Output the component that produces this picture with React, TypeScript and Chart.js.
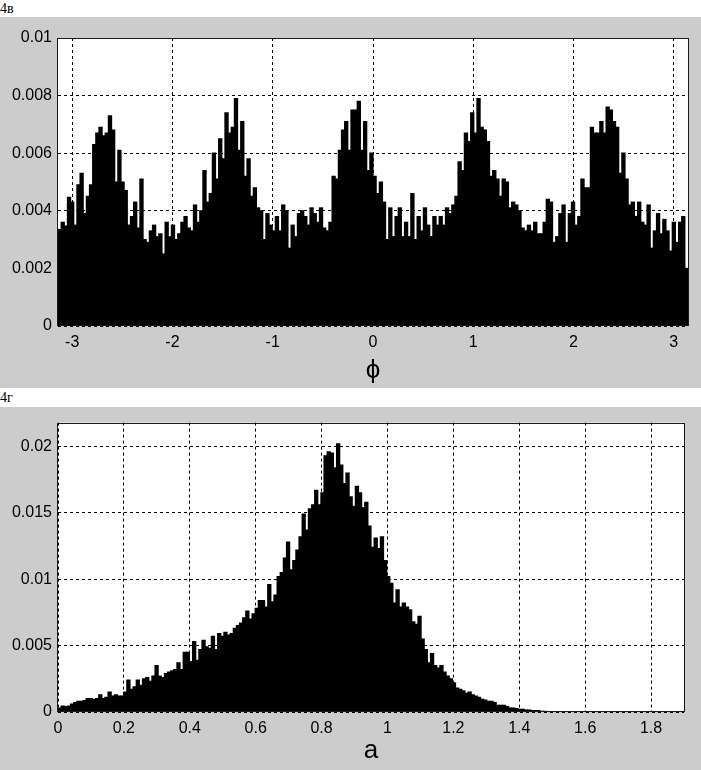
import React, { useEffect, useRef } from 'react';
import { Chart, registerables } from 'chart.js';

Chart.register(...registerables);

// ---- Panel 4в : distribution of phase ϕ (200 bins on [-π, π]) ----
const phiRange = [-Math.PI, Math.PI];
const phiDensity = [
  0.00335, 0.0036, 0.00347, 0.00447, 0.0043, 0.0035, 0.0049, 0.0053, 0.0039, 0.0045,
  0.0049, 0.0063, 0.0067, 0.0069, 0.0066, 0.0067, 0.0073, 0.0068, 0.005, 0.0061,
  0.005, 0.0047, 0.0035, 0.0038, 0.0043, 0.0034, 0.0051, 0.003, 0.0029, 0.0033,
  0.0035, 0.0031, 0.0032, 0.0025, 0.0036, 0.0031, 0.0035, 0.003, 0.0032, 0.0036,
  0.0038, 0.0034, 0.0033, 0.0042, 0.0036, 0.004, 0.0054, 0.0043, 0.0046, 0.006,
  0.0051, 0.0065, 0.0058, 0.0074, 0.0067, 0.0069, 0.0079, 0.0061, 0.0071, 0.0052,
  0.0058, 0.0045, 0.0048, 0.0041, 0.004, 0.003, 0.0039, 0.0035, 0.0033, 0.0038,
  0.0033, 0.0042, 0.004, 0.0027, 0.0035, 0.0031, 0.0039, 0.004, 0.0038, 0.0035,
  0.0041, 0.0039, 0.0036, 0.0041, 0.0034, 0.0033, 0.0036, 0.0052, 0.0051, 0.0061,
  0.0068, 0.0071, 0.0061, 0.0075, 0.0075, 0.0078, 0.0061, 0.0071, 0.0054, 0.006,
  0.0052, 0.0046, 0.005, 0.0043, 0.003, 0.0041, 0.0031, 0.0038, 0.0041, 0.0031,
  0.0036, 0.0031, 0.0046, 0.003, 0.0038, 0.0033, 0.0041, 0.0035, 0.0031, 0.0038,
  0.0035, 0.0038, 0.0035, 0.0041, 0.0039, 0.0042, 0.0045, 0.0057, 0.0054, 0.0067,
  0.0064, 0.0074, 0.0067, 0.0079, 0.0069, 0.0068, 0.0064, 0.0052, 0.0054, 0.0051,
  0.0045, 0.0051, 0.005, 0.0041, 0.0043, 0.0042, 0.004, 0.0034, 0.0033, 0.0035,
  0.0033, 0.0036, 0.0032, 0.0032, 0.0036, 0.0044, 0.0043, 0.0029, 0.0031, 0.0039,
  0.0042, 0.0029, 0.0039, 0.0043, 0.0035, 0.0038, 0.0051, 0.0048, 0.0048, 0.0069,
  0.0067, 0.0067, 0.0071, 0.0067, 0.0076, 0.0075, 0.0071, 0.0069, 0.0053, 0.006,
  0.0051, 0.0042, 0.0043, 0.0038, 0.0043, 0.0036, 0.0035, 0.0042, 0.0027, 0.0033,
  0.0039, 0.0032, 0.0037, 0.0033, 0.0026, 0.0036, 0.0029, 0.0036, 0.0038, 0.002,
];
const phiXTicks = [-3, -2, -1, 0, 1, 2, 3];
const phiYTicks = [0, 0.002, 0.004, 0.006, 0.008, 0.01];
const phiYMax = 0.01;

// ---- Panel 4г : distribution of amplitude a (bins of width 0.0095 from 0) ----
const ampRange = [0, 1.9];
const ampBinWidth = 0.0095;
const ampDensity = [
  0.0003, 0.00045, 0.0004, 0.00045, 0.0006, 0.0007, 0.0008, 0.0008, 0.00085, 0.001,
  0.001, 0.00095, 0.001, 0.0013, 0.001, 0.0011, 0.0015, 0.0012, 0.0013, 0.0012,
  0.0012, 0.0015, 0.0024, 0.0017, 0.0019, 0.0024, 0.002, 0.0025, 0.0026, 0.0023,
  0.0027, 0.0035, 0.0027, 0.0026, 0.0029, 0.003, 0.0031, 0.0032, 0.0037, 0.0032,
  0.0045, 0.0045, 0.0038, 0.0053, 0.0039, 0.0047, 0.0054, 0.0049, 0.0048, 0.0057,
  0.0047, 0.0059, 0.0057, 0.006, 0.0058, 0.0059, 0.0063, 0.0065, 0.0067, 0.0071,
  0.0076, 0.007, 0.0074, 0.0078, 0.0084, 0.0084, 0.0079, 0.0096, 0.0083, 0.0088,
  0.0102, 0.0105, 0.0116, 0.0128, 0.0107, 0.0114, 0.0122, 0.0132, 0.0149, 0.0137,
  0.0153, 0.0156, 0.0167, 0.0156, 0.0165, 0.0193, 0.0196, 0.0195, 0.0184, 0.0202,
  0.0186, 0.0172, 0.018, 0.0162, 0.0155, 0.017, 0.0165, 0.0154, 0.0158, 0.014,
  0.0124, 0.0131, 0.0123, 0.0132, 0.0114, 0.0102, 0.0097, 0.0082, 0.0092, 0.0079,
  0.0082, 0.0079, 0.0077, 0.0068, 0.0066, 0.0072, 0.0055, 0.0047, 0.0037, 0.0044,
  0.0035, 0.0033, 0.0035, 0.003, 0.0027, 0.0025, 0.0022, 0.0018, 0.0017, 0.0016,
  0.0014, 0.0015, 0.0013, 0.0012, 0.0011, 0.00095, 0.0009, 0.0008, 0.0008, 0.0007,
  0.0005, 0.0005, 0.0005, 0.0004, 0.0003, 0.0003, 0.00025, 0.0002, 0.0002, 0.00015,
  0.00015, 0.0001, 0.0001, 0.0001, 0.00005, 0.00005,
];
const ampXTicks = [0, 0.2, 0.4, 0.6, 0.8, 1, 1.2, 1.4, 1.6, 1.8];
const ampYTicks = [0, 0.005, 0.01, 0.015, 0.02];
const ampYMax = 0.0218;

const FONT = '"Liberation Sans", Arial, Helvetica, sans-serif';
const GREY = '#cccccc';

const fmt = (v: number) => String(Number(Number(v).toFixed(6)));

const framePlugin = {
  id: 'matlabFrame',
  beforeDraw(chart: any) {
    const { ctx, chartArea: a } = chart;
    ctx.save();
    ctx.fillStyle = '#ffffff';
    ctx.fillRect(a.left, a.top, a.right - a.left, a.bottom - a.top);
    ctx.restore();
  },
  afterDraw(chart: any) {
    const { ctx, chartArea: a } = chart;
    ctx.save();
    ctx.strokeStyle = '#1a1a1a';
    ctx.lineWidth = 1;
    ctx.strokeRect(Math.round(a.left) - 0.5, Math.round(a.top) + 0.5, Math.round(a.right - a.left) + 1, Math.round(a.bottom - a.top) - 1);
    ctx.restore();
  },
};

type PanelProps = {
  values: number[];
  binStart: number;
  binWidth: number;
  xMin: number;
  xMax: number;
  xTicks: number[];
  yTicks: number[];
  yMax: number;
  title: string;
  titlePad: number;
  height: number;
  padTop: number;
  padRight: number;
  axisLeft: number;
  axisBottom: number;
};

function HistPanel(p: PanelProps) {
  const ref = useRef<HTMLCanvasElement>(null);
  useEffect(() => {
    if (!ref.current) return;
    const points = p.values.map((v, i) => ({ x: p.binStart + (i + 0.5) * p.binWidth, y: v }));
    const chart = new Chart(ref.current, {
      type: 'bar',
      data: {
        datasets: [
          {
            data: points as any,
            backgroundColor: '#000000',
            borderWidth: 0,
            barPercentage: 1,
            categoryPercentage: 1,
            inflateAmount: 0.6,
          } as any,
        ],
      },
      options: {
        animation: false,
        responsive: false,
        maintainAspectRatio: false,
        devicePixelRatio: 1,
        layout: { padding: { top: p.padTop, right: p.padRight, left: 0, bottom: 0 } },
        plugins: { legend: { display: false }, tooltip: { enabled: false }, title: { display: false } },
        scales: {
          x: {
            type: 'linear',
            min: p.xMin,
            max: p.xMax,
            offset: false,
            grid: { offset: false, color: '#000000', lineWidth: 1, drawTicks: false },
            border: { display: false, dash: [3, 3] },
            ticks: {
              color: '#000000',
              font: { family: FONT, size: 16 },
              padding: 7,
              autoSkip: false,
              maxRotation: 0,
              minRotation: 0,
              callback: (v: any) => fmt(v),
            },
            afterBuildTicks: (s: any) => {
              s.ticks = p.xTicks.map((v) => ({ value: v }));
            },
            afterFit: (s: any) => {
              s.height = p.axisBottom;
            },
            title: {
              display: true,
              text: p.title,
              color: '#000000',
              font: { family: FONT, size: 26 },
              padding: { top: 0, bottom: p.titlePad },
            },
          } as any,
          y: {
            type: 'linear',
            min: 0,
            max: p.yMax,
            grid: { color: '#000000', lineWidth: 1, drawTicks: false },
            border: { display: false, dash: [3, 3] },
            ticks: {
              color: '#000000',
              font: { family: FONT, size: 16 },
              padding: 6,
              autoSkip: false,
              callback: (v: any) => fmt(v),
            },
            afterBuildTicks: (s: any) => {
              s.ticks = p.yTicks.map((v) => ({ value: v }));
            },
            afterFit: (s: any) => {
              s.width = p.axisLeft;
            },
          } as any,
        },
      },
      plugins: [framePlugin],
    });
    return () => chart.destroy();
  }, []);
  return (
    <canvas
      ref={ref}
      width={701}
      height={p.height}
      style={{ display: 'block', width: 701, height: p.height, background: GREY }}
    />
  );
}

const labelStyle: React.CSSProperties = {
  fontFamily: '"Liberation Serif", "Times New Roman", serif',
  fontSize: 14,
  color: '#000',
  paddingLeft: 0,
  whiteSpace: 'nowrap',
  overflow: 'hidden',
};

export default function App() {
  return (
    <div
      style={{
        position: 'fixed',
        left: 0,
        top: 0,
        width: 701,
        height: 770,
        background: '#ffffff',
        overflow: 'hidden',
      }}
    >
      <div style={{ ...labelStyle, height: 17, lineHeight: '17px' }}>4в</div>
      <HistPanel
        values={phiDensity}
        binStart={phiRange[0]}
        binWidth={(phiRange[1] - phiRange[0]) / phiDensity.length}
        xMin={phiRange[0]}
        xMax={phiRange[1]}
        xTicks={phiXTicks}
        yTicks={phiYTicks}
        yMax={phiYMax}
        title="ϕ"
        titlePad={2}
        height={371}
        padTop={21}
        padRight={13}
        axisLeft={58}
        axisBottom={62}
      />
      <div style={{ ...labelStyle, height: 19, lineHeight: '20px' }}>4г</div>
      <HistPanel
        values={ampDensity}
        binStart={ampRange[0]}
        binWidth={ampBinWidth}
        xMin={ampRange[0]}
        xMax={ampRange[1]}
        xTicks={ampXTicks}
        yTicks={ampYTicks}
        yMax={ampYMax}
        title="a"
        titlePad={4}
        height={363}
        padTop={15}
        padRight={17}
        axisLeft={58}
        axisBottom={58}
      />
    </div>
  );
}
